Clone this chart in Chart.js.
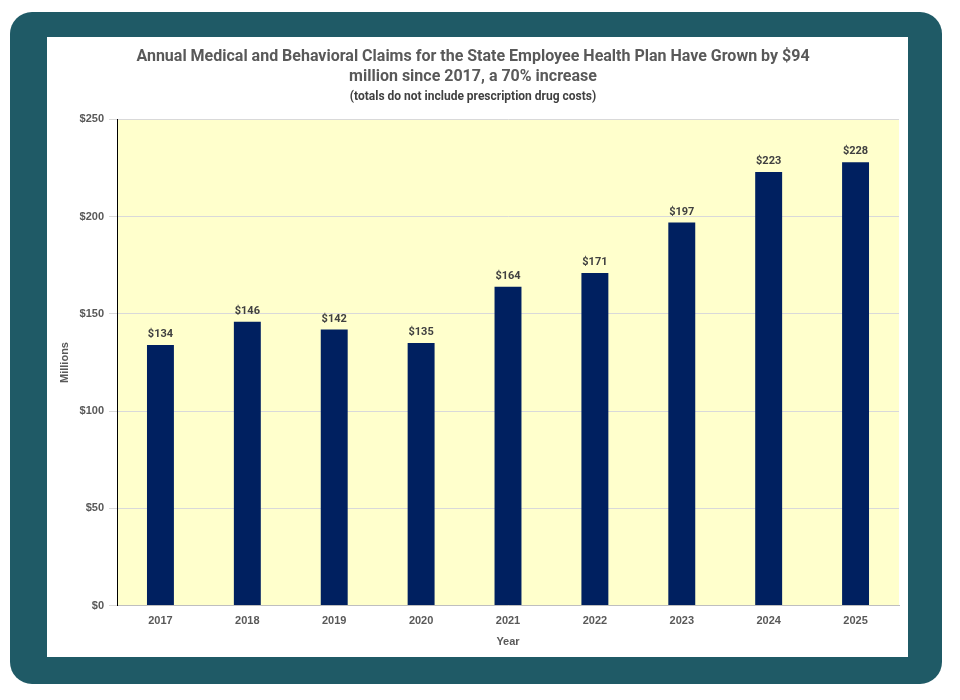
<!DOCTYPE html>
<html lang="en">
<head>
<meta charset="UTF-8">
<title>Annual Medical and Behavioral Claims</title>
<script src="https://cdn.jsdelivr.net/npm/chart.js"></script>
<style>
    body { margin: 0; background: #fff; width: 960px; height: 700px; position: relative; font-family: Roboto, sans-serif; }
    .frame { position: absolute; left: 10px; top: 12px; width: 932px; height: 672px; background: #1f5a66; border-radius: 22px; }
    .panel { position: absolute; left: 47px; top: 37px; width: 861px; height: 620px; background: #fff; }
</style>
</head>
<body>
<div class="frame"></div>
<div class="panel"><canvas id="claims"></canvas></div>
<script>
    const years = ['2017', '2018', '2019', '2020', '2021', '2022', '2023', '2024', '2025'];
    const claims = [134, 146, 142, 135, 164, 171, 197, 223, 228];
    const titleLines = ['Annual Medical and Behavioral Claims for the State Employee Health Plan Have Grown by $94', 'million since 2017, a 70% increase'];
    const subtitleText = '(totals do not include prescription drug costs)';

    const grey = '#595959';
    const narrow = "'Liberation Sans Narrow', 'Roboto', sans-serif";

    // yellow plot area
    const plotBg = {
        id: 'plotBg',
        beforeDraw(chart) {
            const a = chart.chartArea, c = chart.ctx;
            c.save();
            c.fillStyle = '#ffffcc';
            c.fillRect(a.left, a.top, a.right - a.left, a.bottom - a.top);
            c.restore();
        }
    };

    // value labels above bars
    const barLabels = {
        id: 'barLabels',
        afterDatasetsDraw(chart) {
            const c = chart.ctx;
            c.save();
            c.font = 'bold 11px Roboto, sans-serif';
            c.fillStyle = '#404040';
            c.textAlign = 'center';
            c.textBaseline = 'bottom';
            chart.getDatasetMeta(0).data.forEach((bar, i) => {
                c.fillText('$' + claims[i], bar.x, bar.y - 5);
            });
            c.restore();
        }
    };

    new Chart(document.getElementById('claims'), {
        type: 'bar',
        data: {
            labels: years,
            datasets: [{
                data: claims,
                backgroundColor: '#002060',
                categoryPercentage: 1,
                barPercentage: 0.31
            }]
        },
        options: {
            responsive: true,
            maintainAspectRatio: false,
            animation: false,
            layout: { padding: { top: 10, right: 9, bottom: 8, left: 0 } },
            plugins: {
                legend: { display: false },
                tooltip: { enabled: false },
                title: {
                    display: true,
                    text: titleLines,
                    color: grey,
                    font: { family: narrow, size: 16, weight: 'bold', lineHeight: 1.25 },
                    padding: { top: 0, bottom: 3 }
                },
                subtitle: {
                    display: true,
                    text: subtitleText,
                    color: '#404040',
                    font: { family: narrow, size: 12, weight: 'bold', lineHeight: 1.2 },
                    padding: { top: 0, bottom: 15 }
                }
            },
            scales: {
                x: {
                    grid: { display: false },
                    border: { color: '#bfbfbf' },
                    ticks: { color: grey, font: { size: 11, weight: 'bold' }, padding: 1 },
                    title: { display: true, text: 'Year', color: grey, font: { size: 11, weight: 'bold' }, padding: { top: 7, bottom: 0 } }
                },
                y: {
                    min: 0,
                    max: 250,
                    grid: { color: '#d9d9d9' },
                    border: { color: '#000' },
                    ticks: {
                        stepSize: 50,
                        color: grey,
                        font: { size: 11, weight: 'bold' },
                        padding: 5,
                        callback: v => '$' + v
                    },
                    title: { display: true, text: 'Millions', color: grey, font: { size: 11, weight: 'bold' }, padding: { top: 11, bottom: 0 } },
                    afterFit(scale) { scale.width = 70; }
                }
            }
        },
        plugins: [plotBg, barLabels]
    });
</script>
</body>
</html>
